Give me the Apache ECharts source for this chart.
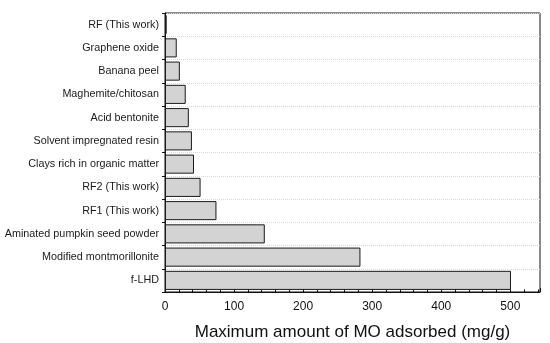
<!DOCTYPE html>
<html><head><meta charset="utf-8">
<script src="https://cdn.jsdelivr.net/npm/echarts@6/dist/echarts.min.js"></script>
<style>html,body{margin:0;padding:0;background:#fff}#c{width:550px;height:343px}</style>
</head><body><div id="c"></div>
<script>
const categories = ["RF (This work)","Graphene oxide","Banana peel","Maghemite/chitosan","Acid bentonite","Solvent impregnated resin","Clays rich in organic matter","RF2 (This work)","RF1 (This work)","Aminated pumpkin seed powder","Modified montmorillonite","f-LHD"];
const values = [2.5, 17, 21.5, 30, 34.5, 39, 42, 51.5, 74.5, 144.5, 283, 501];
const xTicks = [0, 100, 200, 300, 400, 500];
const chart = echarts.init(document.getElementById('c'));
chart.setOption({
  animation: false,
  textStyle: {fontFamily: 'Liberation Sans, Arial, sans-serif'},
  grid: {left: 165, right: 10, top: 13, bottom: 51, containLabel: false, outerBoundsMode: 'none',
    show: true, borderColor: '#111', borderWidth: 1, backgroundColor: 'transparent'},
  xAxis: {
    type: 'value', min: 0, max: 543, interval: 100,
    name: 'Maximum amount of MO adsorbed (mg/g)', nameLocation: 'middle', nameGap: 32,
    nameTextStyle: {fontSize: 17, color: '#111'},
    axisLine: {show: true, lineStyle: {color: '#111', width: 1}},
    axisTick: {show: true, inside: true, length: 4, lineStyle: {color: '#111'}},
    minorTick: {show: true, splitNumber: 5, length: 2.5, lineStyle: {color: '#111'}},
    axisLabel: {fontSize: 12, color: '#111', margin: 9, showMaxLabel: false,
      formatter: v => xTicks.includes(v) ? String(v) : ''},
    splitLine: {show: false}
  },
  yAxis: {
    type: 'category', data: categories, inverse: true,
    axisLine: {show: true, lineStyle: {color: '#111', width: 1}},
    axisTick: {show: true, length: 3, lineStyle: {color: '#111'}},
    axisLabel: {fontSize: 10.8, color: '#1a1a1a', margin: 6},
    splitLine: {show: true, lineStyle: {color: '#d8d8d8', type: 'dotted', width: 1}}
  },
  series: [{
    type: 'bar', data: values, barCategoryGap: '18%',
    itemStyle: {color: '#d3d3d3', borderColor: '#1a1a1a', borderWidth: 1}
  }]
});
</script></body></html>
